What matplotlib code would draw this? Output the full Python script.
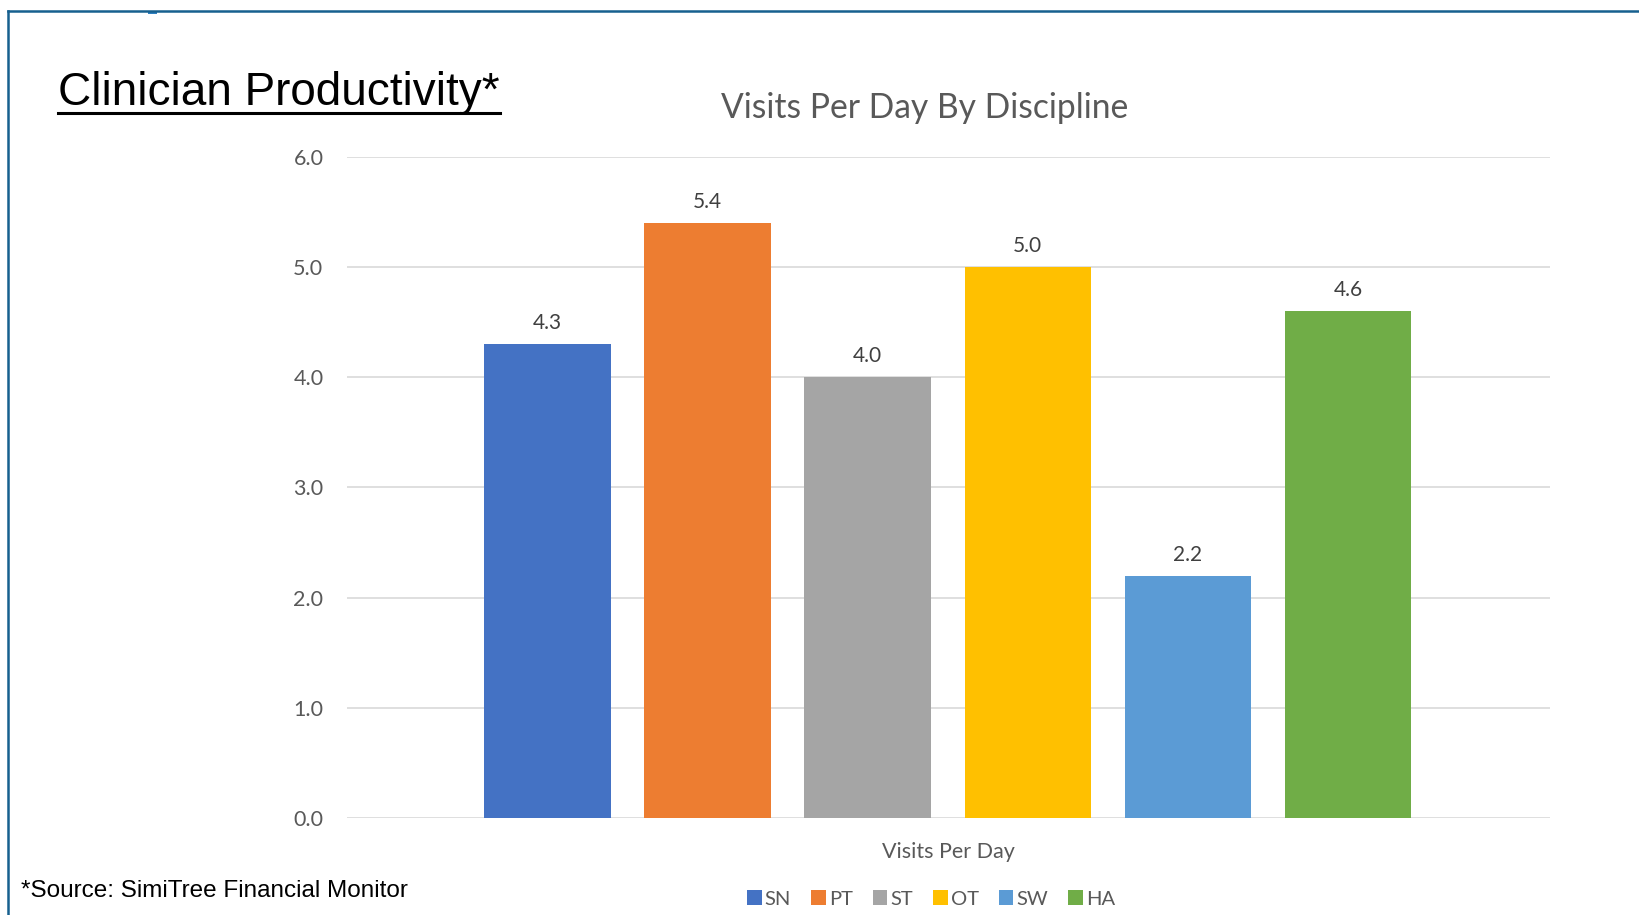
import matplotlib
matplotlib.use("Agg")
import matplotlib.pyplot as plt
from matplotlib.lines import Line2D
from matplotlib.patches import Rectangle

# data
disciplines = ["SN", "PT", "ST", "OT", "SW", "HA"]
visits_per_day = [4.3, 5.4, 4.0, 5.0, 2.2, 4.6]
bar_colors = ["#4472C4", "#ED7D31", "#A5A5A5", "#FFC000", "#5B9BD5", "#70AD47"]
y_ticks = [0.0, 1.0, 2.0, 3.0, 4.0, 5.0, 6.0]

W, H = 1639, 915
GRAY = "#595959"
FRAME = "#17608F"

fig = plt.figure(figsize=(W / 100, H / 100), dpi=100)
fig.patch.set_facecolor("white")

# chart area
ax = fig.add_axes([347 / W, 1 - 818 / H, (1550 - 347) / W, (818 - 157) / H])
x = list(range(len(disciplines)))
bars = ax.bar(x, visits_per_day, width=0.79, color=bar_colors, label=disciplines, zorder=3)

for b, v in zip(bars, visits_per_day):
    ax.annotate("{:.1f}".format(v), (b.get_x() + b.get_width() / 2, v),
                xytext=(0, 8), textcoords="offset points", ha="center", va="bottom",
                fontsize=15, color="#404040", family="Lato")

ax.set_xlim(-1.25, 6.26)
ax.set_ylim(0, 6.0)
ax.set_yticks(y_ticks)
ax.set_yticklabels(["{:.1f}".format(t) for t in y_ticks], fontsize=15.5, color=GRAY, family="Lato")
ax.set_xticks([])
ax.tick_params(axis="y", length=0, pad=17)
ax.grid(axis="y", color="#D9D9D9", linewidth=1.2, zorder=0)
for s in ax.spines.values():
    s.set_visible(False)
ax.set_xlabel("Visits Per Day", fontsize=15.5, color=GRAY, family="Lato", labelpad=17)

ax.legend(bars, disciplines, loc="center", bbox_to_anchor=(931 / W, 1 - 899 / H),
          bbox_transform=fig.transFigure, ncol=6, frameon=False,
          prop={"family": "Lato", "size": 14.5}, labelcolor=GRAY,
          handlelength=0.72, handleheight=0.72, handletextpad=0.15, columnspacing=1.0)

fig.text(925 / W, 1 - 108 / H, "Visits Per Day By Discipline", ha="center", va="center",
         fontsize=24.2, color=GRAY, family="Lato")

# slide heading, underlined
head = fig.text(58 / W, 1 - 105 / H, "Clinician Productivity*", ha="left", va="baseline",
                fontsize=33, color="black", family="Liberation Sans")
fig.canvas.draw()
bb = head.get_window_extent().transformed(fig.transFigure.inverted())
fig.add_artist(Line2D([bb.x0, bb.x1], [1 - 113 / H] * 2, transform=fig.transFigure,
                      color="black", linewidth=2.2))

fig.text(21 / W, 1 - 897 / H, "*Source: SimiTree Financial Monitor", ha="left", va="baseline",
         fontsize=17.5, color="black", family="Liberation Sans")

# slide frame
fig.add_artist(Line2D([8 / W, 1.0], [1 - 11 / H] * 2, transform=fig.transFigure,
                      color=FRAME, linewidth=1.8))
fig.add_artist(Line2D([8 / W, 8 / W], [1 - 11 / H, 0.0], transform=fig.transFigure,
                      color=FRAME, linewidth=1.8))
fig.add_artist(Rectangle((148 / W, 1 - 14 / H), 9 / W, 3 / H, transform=fig.transFigure,
                         color="#2F80C0", linewidth=0))

fig.savefig("out.png", dpi=100, facecolor="white")
